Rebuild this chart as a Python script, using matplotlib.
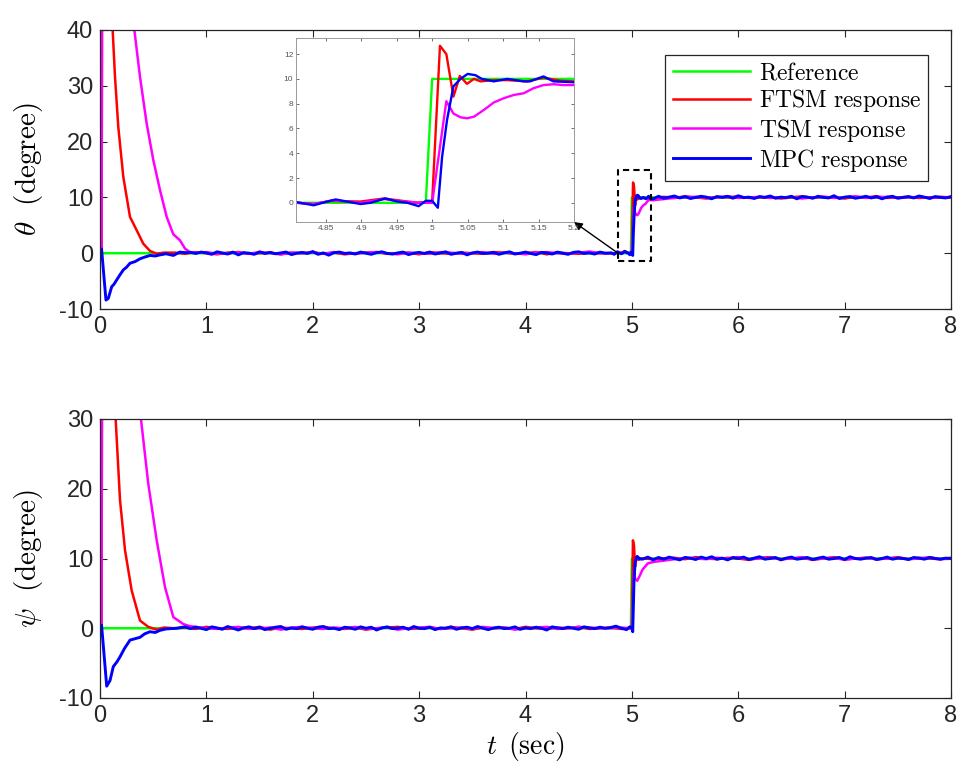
import numpy as np
import matplotlib
matplotlib.use("Agg")
import matplotlib.pyplot as plt

plt.rcParams['font.family'] = ['Liberation Sans', 'DejaVu Sans']
plt.rcParams['mathtext.fontset'] = 'cm'
plt.rcParams['axes.unicode_minus'] = False

# ---------------- data ----------------
labels = ['Reference', 'FTSM response', 'TSM response', 'MPC response']
colors = ['#00ff00', '#ff0000', '#ff00ff', '#0000ff']

ref_t = [0.0, 4.991, 5.0, 8.0]
ref_v = [0.0, 0.0, 10.0, 10.0]

# ---- theta : FTSM ----
th_ftsm_t0 = [0.015, 0.019, 0.03, 0.06, 0.09, 0.119, 0.141, 0.172, 0.219, 0.282, 0.345, 0.407, 0.47, 0.533, 0.6]
th_ftsm_v0 = [0, 45, 75, 65, 50, 40, 31.6, 22.6, 13.7, 6.5, 4.1, 1.7, 0.4, -0.1, 0.1]
th_ftsm_v1 = [0.1, -0.1, 0.2, 0.0, -0.2, 0.1, 0.2, -0.1, 0.0, 0.1, -0.2, 0.1, 0.0, 0.2, -0.1, 0.1, -0.2, 0.0, 0.1, 0.2,
              -0.1, 0.0, 0.1, -0.2, 0.2, 0.0, -0.1, 0.1, 0.0, -0.1, 0.2, 0.1, -0.1, 0.0, 0.2, -0.2, 0.1, 0.0, -0.1, 0.1, 0.0]
th_ftsm_t2 = [4.809, 4.833, 4.857, 4.899, 4.932, 4.979, 5.0, 5.011, 5.020, 5.030, 5.039, 5.049, 5.059, 5.068, 5.087, 5.106, 5.134, 5.157, 5.181, 5.2]
th_ftsm_v2 = [0, -0.1, 0.15, 0.1, 0.35, 0, 0.1, 12.67, 12.0, 8.57, 10.24, 9.6, 10.0, 9.8, 9.9, 9.9, 9.8, 10.1, 9.85, 9.8]
th_ftsm_v3 = [10.1, 9.9, 10.2, 10.0, 9.8, 10.1, 10.0, 10.2, 9.9, 10.0, 10.1, 9.8, 10.0, 10.2, 9.9, 10.1, 10.0, 9.8, 10.1, 10.0,
              10.2, 9.9, 10.0, 10.1, 9.9, 10.0, 10.1, 10.0]

# ---- theta : TSM ----
th_tsm_t0 = [0.015, 0.02, 0.05, 0.1, 0.2, 0.323, 0.376, 0.439, 0.501, 0.564, 0.627, 0.689, 0.752, 0.8, 0.846]
th_tsm_v0 = [0, 60, 90, 95, 75, 40, 31.6, 23.2, 16.7, 11.3, 6.5, 3.4, 2.3, 0.8, 0.2]
th_tsm_v1 = [0.1, 0.2, -0.1, 0.0, 0.1, -0.1, 0.2, 0.0, -0.2, 0.1, 0.0, 0.1, -0.1, 0.2, 0.0, -0.1, 0.1, 0.2, 0.0, -0.2,
             0.1, 0.0, -0.1, 0.2, 0.1, -0.1, 0.0, 0.2, -0.1, 0.1, 0.0, -0.2, 0.1, 0.2, 0.0, -0.1, 0.1, 0.3, 0.0]
th_tsm_t2 = [4.809, 4.833, 4.86, 4.899, 4.932, 4.96, 4.985, 5.0, 5.02, 5.03, 5.04, 5.049, 5.059, 5.073, 5.087, 5.101, 5.115,
             5.129, 5.143, 5.157, 5.171, 5.185, 5.2]
th_tsm_v2 = [0, -0.1, 0.2, 0.0, 0.3, 0.1, 0.0, 0.0, 8.2, 7.2, 6.9, 6.82, 6.95, 7.5, 8.1, 8.44, 8.7, 8.84, 9.25, 9.5, 9.57, 9.5, 9.5]
th_tsm_v3 = [9.7, 9.9, 10.0, 10.1, 9.9, 10.0, 10.2, 9.9, 10.0, 10.1, 9.9, 10.0, 10.1, 9.8, 10.0, 10.1, 9.9, 10.0, 10.2, 9.9,
             10.0, 10.1, 9.9, 10.0, 10.1, 9.9, 10.0, 10.0]

# ---- theta : MPC ----
th_mpc_t0 = [0.015, 0.056, 0.078, 0.11, 0.13, 0.157, 0.19, 0.219, 0.25, 0.282, 0.33, 0.376, 0.42, 0.47, 0.52, 0.564, 0.62, 0.69, 0.75, 0.8]
th_mpc_v0 = [0.7, -8.4, -8.1, -6.0, -5.6, -4.8, -3.8, -3.0, -2.5, -1.8, -1.5, -1.0, -0.7, -0.4, -0.5, -0.3, -0.1, -0.4, 0.2, 0.1]
th_mpc_v1 = [0.15, -0.05, 0.2, 0.05, -0.2, 0.25, 0.05, -0.15, 0.2, -0.3, 0.1, 0.0, -0.2, 0.25, -0.05, 0.15, -0.1, 0.05, 0.2, -0.25,
             0.0, 0.15, -0.05, 0.3, -0.2, 0.05, -0.35, 0.1, 0.2, -0.05, 0.05, -0.15, 0.2, 0.0, -0.2, 0.1, 0.25, -0.05, -0.15, 0.05,
             0.2, -0.25, 0.0, 0.15, -0.05, 0.2, -0.15, 0.05, 0.25, -0.2, 0.0, 0.15, -0.3, 0.05, 0.2, -0.05, 0.0, 0.15, -0.2, 0.05,
             0.25, -0.15, 0.0, 0.2, -0.05, -0.25, 0.15, 0.05, -0.15, 0.2, 0.0, -0.2, 0.15, 0.25, -0.05, 0.05, -0.15, 0.2, 0.0]
th_mpc_t2 = [4.809, 4.833, 4.852, 4.864, 4.88, 4.899, 4.913, 4.934, 4.951, 4.965, 4.981, 4.991, 5.0, 5.008, 5.014, 5.021,
             5.030, 5.04, 5.05, 5.061, 5.07, 5.087, 5.106, 5.129, 5.138, 5.157, 5.171, 5.2]
th_mpc_v2 = [0.05, -0.2, 0.1, 0.27, 0.1, -0.1, 0.0, 0.35, 0.1, 0.0, -0.27, 0.16, 0.16, -0.4, 3.7, 6.7,
             9.4, 10.0, 10.4, 10.3, 10.0, 9.8, 10.0, 9.8, 9.8, 10.2, 9.8, 9.73]
th_mpc_v3 = [10.2, 9.85, 10.05, 10.25, 9.9, 10.15, 9.8, 10.0, 10.2, 10.05, 9.75, 10.15, 10.0, 10.2, 9.85, 10.3, 9.95, 10.05, 9.8, 10.15,
             10.0, 10.25, 9.85, 10.05, 9.95, 10.2, 9.75, 10.15, 10.05, 9.85, 10.2, 10.0, 9.9, 10.3, 9.8, 10.05, 10.15, 9.85, 10.0, 10.2,
             9.9, 10.15, 9.75, 10.05, 10.2, 9.85, 10.0, 10.15, 9.9, 10.25, 10.05, 9.8, 10.15, 10.0, 9.9, 10.15]

# ---- psi : FTSM ----
ps_ftsm_t0 = [0.015, 0.019, 0.04, 0.08, 0.12, 0.147, 0.188, 0.235, 0.298, 0.376, 0.454, 0.533, 0.6]
ps_ftsm_v0 = [0, 40, 60, 50, 38, 30, 18.4, 11.2, 5.4, 1.1, 0.2, -0.2, 0.1]
ps_ftsm_v1 = [0.0, 0.1, -0.1, 0.2, 0.0, -0.1, 0.1, 0.0, 0.2, -0.2, 0.1, 0.0, -0.1, 0.1, 0.2, 0.0, -0.1, 0.1, -0.2, 0.0,
              0.1, 0.2, -0.1, 0.0, 0.1, -0.1, 0.2, 0.0, -0.2, 0.1, 0.0, 0.1, -0.1, 0.2, 0.0, -0.1, 0.1, 0.0, 0.2, -0.1, 0.0]
ps_ftsm_t2 = [4.8, 4.9, 4.99, 5.0, 5.01, 5.02, 5.03, 5.04, 5.06, 5.1, 5.2]
ps_ftsm_v2 = [0.1, -0.1, 0.0, 0.1, 12.6, 11.8, 8.8, 10.2, 9.8, 10.0, 9.9]
ps_ftsm_v3 = [10.0, 10.1, 9.9, 10.2, 10.0, 9.9, 10.1, 10.0, 9.8, 10.1, 10.2, 9.9, 10.0, 10.1, 9.8, 10.0, 10.2, 9.9, 10.0, 10.1,
              9.9, 10.0, 10.2, 9.9, 10.1, 10.0, 9.9, 10.1]

# ---- psi : TSM ----
ps_tsm_t0 = [0.015, 0.02, 0.05, 0.1, 0.2, 0.3, 0.385, 0.454, 0.533, 0.611, 0.689, 0.783, 0.846]
ps_tsm_v0 = [0, 60, 85, 90, 75, 50, 30, 20.7, 12.6, 5.9, 1.6, 0.6, 0.3]
ps_tsm_v1 = [0.2, 0.0, -0.1, 0.1, 0.2, -0.1, 0.0, 0.1, -0.2, 0.1, 0.2, 0.0, -0.1, 0.1, 0.0, 0.2, -0.1, 0.0, 0.1, -0.2,
             0.0, 0.1, 0.2, -0.1, 0.0, 0.1, -0.1, 0.2, 0.0, 0.1, -0.2, 0.0, 0.1, 0.2, -0.1, 0.0, 0.2, 0.1, 0.0]
ps_tsm_t2 = [4.8, 4.9, 4.99, 5.0, 5.02, 5.03, 5.05, 5.07, 5.1, 5.15, 5.2]
ps_tsm_v2 = [0.0, 0.1, 0.0, 0.0, 8.2, 7.1, 6.8, 7.4, 8.4, 9.3, 9.5]
ps_tsm_v3 = [9.7, 9.9, 10.1, 10.0, 9.9, 10.1, 10.0, 10.2, 9.9, 10.0, 10.1, 9.9, 10.0, 10.2, 9.9, 10.0, 10.1, 9.8, 10.0, 10.1,
             9.9, 10.0, 10.1, 9.9, 10.0, 10.2, 9.9, 10.0]

# ---- psi : MPC ----
ps_mpc_t0 = [0.015, 0.063, 0.094, 0.125, 0.16, 0.188, 0.23, 0.282, 0.33, 0.376, 0.42, 0.47, 0.52, 0.564, 0.62, 0.72, 0.8]
ps_mpc_v0 = [0.4, -8.3, -7.5, -5.5, -4.8, -4.1, -2.9, -1.7, -1.5, -1.3, -0.8, -0.5, -0.6, -0.3, -0.1, 0.0, 0.2]
ps_mpc_v1 = [-0.05, 0.15, 0.0, -0.2, 0.2, 0.05, -0.15, 0.25, 0.0, -0.25, 0.05, 0.2, -0.05, 0.15, -0.2, 0.0, 0.15, 0.25, -0.15, 0.05,
             -0.05, 0.2, 0.0, -0.15, 0.15, 0.25, -0.05, 0.0, -0.2, 0.15, 0.05, -0.15, 0.2, 0.0, 0.15, -0.25, 0.05, 0.2, -0.05, 0.0,
             0.15, -0.15, 0.25, 0.0, -0.05, 0.15, -0.2, 0.05, 0.0, 0.2, -0.15, 0.05, 0.15, -0.05, 0.25, 0.0, -0.2, 0.05, 0.15, -0.05,
             0.0, 0.2, -0.15, 0.05, -0.05, 0.15, 0.0, -0.25, 0.2, 0.05, -0.05, 0.15, 0.0, -0.15, 0.2, 0.05, -0.05, 0.15, 0.0]
ps_mpc_t2 = [4.8, 4.85, 4.9, 4.95, 4.98, 5.0, 5.008, 5.02, 5.03, 5.04, 5.05, 5.07, 5.1, 5.15, 5.2]
ps_mpc_v2 = [0.1, 0.3, 0.0, -0.2, 0.2, 0.1, -0.5, 6.8, 9.4, 10.0, 10.3, 10.0, 9.9, 10.2, 9.8]
ps_mpc_v3 = [10.15, 9.9, 10.2, 10.0, 9.8, 10.15, 10.05, 9.85, 10.2, 10.0, 10.25, 9.9, 10.05, 9.8, 10.15, 10.0, 10.2, 9.85, 10.05, 10.25,
             9.9, 10.0, 10.15, 9.8, 10.05, 10.2, 9.9, 10.0, 10.15, 9.85, 10.05, 10.2, 9.9, 10.0, 10.15, 9.85, 10.25, 10.0, 9.9, 10.05,
             10.15, 9.85, 10.0, 10.2, 9.9, 10.05, 10.0, 9.85, 10.15, 10.05, 9.9, 10.15, 10.0, 9.9, 10.05, 10.0]

# sampling grids of the steady segments
grid_mpc1 = np.round(np.arange(0.85, 4.7501, 0.05), 3)
grid_mpc3 = np.round(np.arange(5.25, 8.0001, 0.05), 3)
grid_ftsm1 = np.round(np.arange(0.7, 4.7001, 0.1), 3)
grid_tsm1 = np.round(np.arange(0.9, 4.7001, 0.1), 3)
grid_post = np.round(np.arange(5.3, 8.0001, 0.1), 3)


def series(t0, v0, t1, v1, t2, v2, t3, v3):
    return (np.concatenate([t0, t1, t2, t3]), np.concatenate([v0, v1, v2, v3]))


theta = [
    (np.array(ref_t), np.array(ref_v)),
    series(th_ftsm_t0, th_ftsm_v0, grid_ftsm1, th_ftsm_v1, th_ftsm_t2, th_ftsm_v2, grid_post, th_ftsm_v3),
    series(th_tsm_t0, th_tsm_v0, grid_tsm1, th_tsm_v1, th_tsm_t2, th_tsm_v2, grid_post, th_tsm_v3),
    series(th_mpc_t0, th_mpc_v0, grid_mpc1, th_mpc_v1, th_mpc_t2, th_mpc_v2, grid_mpc3, th_mpc_v3),
]
psi = [
    (np.array(ref_t), np.array(ref_v)),
    series(ps_ftsm_t0, ps_ftsm_v0, grid_ftsm1, ps_ftsm_v1, ps_ftsm_t2, ps_ftsm_v2, grid_post, ps_ftsm_v3),
    series(ps_tsm_t0, ps_tsm_v0, grid_tsm1, ps_tsm_v1, ps_tsm_t2, ps_tsm_v2, grid_post, ps_tsm_v3),
    series(ps_mpc_t0, ps_mpc_v0, grid_mpc1, ps_mpc_v1, ps_mpc_t2, ps_mpc_v2, grid_mpc3, ps_mpc_v3),
]

# ---------------- figure ----------------
W, H = 963, 782
fig = plt.figure(figsize=(W / 100, H / 100), dpi=100)


def fx(px):
    return px / W


def fy(py):
    return 1 - py / H


ax1 = fig.add_axes([fx(100), fy(309), fx(951) - fx(100), fy(30) - fy(309)])
ax2 = fig.add_axes([fx(100), fy(698), fx(951) - fx(100), fy(419) - fy(698)])

widths = [1.8, 1.8, 1.8, 2.1]


def style_main(ax, ylim, yticks):
    ax.set_xlim(0, 8)
    ax.set_ylim(*ylim)
    ax.set_xticks(range(0, 9))
    ax.set_yticks(yticks)
    ax.tick_params(direction='in', top=True, right=True, length=5, width=0.8,
                   labelsize=17, colors='#262626', pad=5)
    for s in ax.spines.values():
        s.set_linewidth(0.9)
        s.set_color('#262626')


handles = []
for (t, v), c, lw, lab in zip(theta, colors, widths, labels):
    h, = ax1.plot(t, v, color=c, lw=lw, label=lab)
    handles.append(h)
for (t, v), c, lw in zip(psi, colors, widths):
    ax2.plot(t, v, color=c, lw=lw)

style_main(ax1, (-10, 40), [-10, 0, 10, 20, 30, 40])
style_main(ax2, (-10, 30), [-10, 0, 10, 20, 30])

ax1.set_ylabel(r'$\theta\ \ \mathrm{(degree)}$', fontsize=21, labelpad=10)
ax2.set_ylabel(r'$\psi\ \ \mathrm{(degree)}$', fontsize=21, labelpad=10)
ax2.set_xlabel(r'$t\ \,\mathrm{(sec)}$', fontsize=20, labelpad=2)

# dashed zoom box
box_x = [4.866, 5.176]
box_y = [-1.4, 14.9]
ax1.plot([box_x[0], box_x[1], box_x[1], box_x[0], box_x[0]],
         [box_y[0], box_y[0], box_y[1], box_y[1], box_y[0]],
         color='black', ls=(0, (3, 2)), lw=1.5, zorder=5)

# inset
axin = fig.add_axes([fx(296), fy(222), fx(574) - fx(296), fy(38) - fy(222)])
for (t, v), c in zip(theta, colors):
    axin.plot(t, v, color=c, lw=1.7)
axin.set_xlim(4.808, 5.2)
axin.set_ylim(-1.55, 13.3)
axin.set_xticks([4.85, 4.9, 4.95, 5.0, 5.05, 5.1, 5.15, 5.2])
axin.set_xticklabels(['4.85', '4.9', '4.95', '5', '5.05', '5.1', '5.15', '5.2'])
axin.set_yticks([0, 2, 4, 6, 8, 10, 12])
axin.tick_params(direction='in', top=True, right=True, length=2.5, width=0.6,
                 labelsize=6, colors='#555555', pad=2)
for s in axin.spines.values():
    s.set_linewidth(0.7)
    s.set_color('#999999')

# arrow from box to inset corner
ax1.annotate('', xy=(5.2, -1.55), xycoords=axin.transData,
             xytext=(4.87, 0.0), textcoords=ax1.transData,
             arrowprops=dict(arrowstyle='-|>', color='black', lw=1.0,
                             mutation_scale=12, shrinkA=0, shrinkB=0),
             zorder=6)

# legend
leg = fig.legend(handles=handles, loc='upper right',
                 bbox_to_anchor=(fx(928), fy(55)),
                 prop={'size': 17},
                 frameon=True, fancybox=False, framealpha=1,
                 edgecolor='#262626', handlelength=3.3, handletextpad=0.35,
                 labelspacing=0.12, borderpad=0.3, borderaxespad=0)
leg.get_frame().set_linewidth(0.9)
for txt, lab in zip(leg.get_texts(), labels):
    txt.set_text(r'$\mathrm{' + lab.replace(' ', r'\ ') + '}$')

fig.savefig('out.png', dpi=100)
